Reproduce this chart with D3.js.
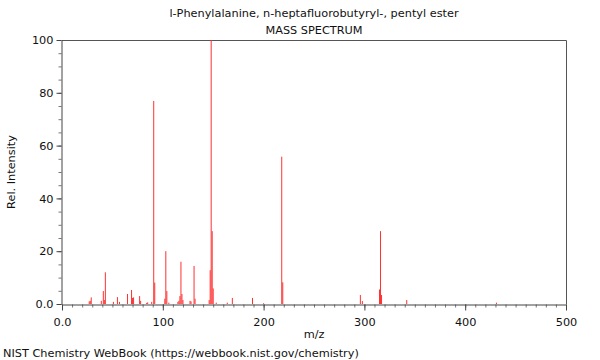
<!DOCTYPE html>
<html>
<head>
<meta charset="utf-8">
<script src="https://cdn.jsdelivr.net/npm/d3@7"></script>
<style>
  body { margin: 0; background: #fff; }
  svg { display: block; font-family: "DejaVu Sans", sans-serif; }
</style>
</head>
<body>
<svg id="chart" width="600" height="360"></svg>
<script>
// Peak list (m/z, relative intensity).
const mzValues = [27, 28, 29, 39, 41, 42, 43, 51, 55, 57, 65, 69, 70, 71, 77, 78, 84, 85, 89, 91, 92,
  102, 103, 104, 106, 115, 116, 117, 118, 119, 120, 127, 128, 131, 132, 146, 147, 148, 149, 150,
  153, 164, 169, 189, 200, 218, 219, 296, 298, 315, 316, 317, 342, 431];
const intensities = [1.0, 1.2, 2.5, 1.2, 4.9, 1.5, 12, 0.8, 2.6, 0.8, 3.8, 5.3, 2.3, 2.5, 3.0, 1.2, 0.4, 0.6, 0.8, 76.9, 8.1,
  2.0, 20, 4.9, 0.5, 0.8, 1.2, 3.0, 16, 3.8, 1.5, 1.2, 1.0, 14.4, 2.0, 1.5, 12.8, 100, 27.6, 5.9,
  0.5, 0.5, 2.3, 2.3, 0.3, 55.8, 8.2, 3.4, 1.1, 5.5, 27.6, 3.4, 1.5, 0.5];

const xTickValues = [0, 100, 200, 300, 400, 500];
const xTickLabels = ["0.0", "100", "200", "300", "400", "500"];
const yTickValues = [0, 20, 40, 60, 80, 100];
const yTickLabels = ["0.0", "20", "40", "60", "80", "100"];

const titleText = "l-Phenylalanine, n-heptafluorobutyryl-, pentyl ester";
const subtitleText = "MASS SPECTRUM";
const footerText = "NIST Chemistry WebBook (https://webbook.nist.gov/chemistry)";

const peaks = mzValues.map((mz, i) => ({ mz, rel: intensities[i] }));

const margin = { top: 40, right: 34, bottom: 56, left: 62 };
const W = 600, H = 360;
const x = d3.scaleLinear().domain([0, 500]).range([margin.left, W - margin.right]);
const y = d3.scaleLinear().domain([0, 100]).range([H - margin.bottom, margin.top]);

const svg = d3.select("#chart");
const axisColor = "#444";
const fs = 11.3;

// Frame (top and right).
svg.append("path")
  .attr("d", `M${x(0)},${y(100) + 0.5}H${x(500) + 0.5}V${y(0)}`)
  .attr("fill", "none")
  .attr("stroke", "#555")
  .attr("stroke-width", 1);

// Peaks.
svg.append("g")
  .selectAll("line")
  .data(peaks)
  .join("line")
  .attr("x1", (d) => x(d.mz))
  .attr("x2", (d) => x(d.mz))
  .attr("y1", y(0))
  .attr("y2", (d) => y(d.rel))
  .attr("stroke", "#ff3030")
  .attr("stroke-width", 1);

// X axis with minor ticks.
const xMinor = d3.axisBottom(x).tickValues(d3.range(0, 501, 10)).tickSize(3).tickFormat("");
svg.append("g").attr("transform", `translate(0,${y(0) + 0.5})`).call(xMinor)
  .call((g) => g.select(".domain").remove())
  .call((g) => g.selectAll("line").attr("stroke", "#777"));

const xAxis = d3.axisBottom(x).tickValues(xTickValues).tickSize(6).tickSizeOuter(0)
  .tickFormat((d, i) => xTickLabels[i]);
svg.append("g").attr("transform", `translate(0,${y(0) + 0.5})`).call(xAxis)
  .call((g) => g.select(".domain").attr("stroke", axisColor))
  .call((g) => g.selectAll("line").attr("stroke", axisColor))
  .call((g) => g.selectAll("text").attr("font-size", fs).attr("font-family", "DejaVu Sans").attr("fill", "#111").attr("dy", "1.1em"));

// Y axis with minor ticks.
const yMinor = d3.axisLeft(y).tickValues(d3.range(0, 101, 5)).tickSize(3).tickFormat("");
svg.append("g").attr("transform", `translate(${x(0) - 0.5},0)`).call(yMinor)
  .call((g) => g.select(".domain").remove())
  .call((g) => g.selectAll("line").attr("stroke", "#777"));

const yAxis = d3.axisLeft(y).tickValues(yTickValues).tickSize(5).tickSizeOuter(0)
  .tickFormat((d, i) => yTickLabels[i]);
svg.append("g").attr("transform", `translate(${x(0) - 0.5},0)`).call(yAxis)
  .call((g) => g.select(".domain").attr("stroke", axisColor))
  .call((g) => g.selectAll("line").attr("stroke", axisColor))
  .call((g) => g.selectAll("text").attr("font-size", fs).attr("font-family", "DejaVu Sans").attr("fill", "#111"));

// Titles and labels.
const midX = (x(0) + x(500)) / 2;
svg.append("text").attr("x", midX).attr("y", 17).attr("text-anchor", "middle")
  .attr("font-size", fs).attr("fill", "#111").text(titleText);
svg.append("text").attr("x", midX).attr("y", 34).attr("text-anchor", "middle")
  .attr("font-size", fs).attr("fill", "#111").text(subtitleText);
svg.append("text").attr("x", midX).attr("y", 338).attr("text-anchor", "middle")
  .attr("font-size", fs).attr("fill", "#111").text("m/z");
svg.append("text").attr("transform", `translate(15,${(y(0) + y(100)) / 2}) rotate(-90)`)
  .attr("text-anchor", "middle").attr("font-size", fs).attr("fill", "#111").text("Rel. Intensity");
svg.append("text").attr("x", 3).attr("y", 357)
  .attr("font-size", fs).attr("fill", "#111").text(footerText);
</script>
</body>
</html>
